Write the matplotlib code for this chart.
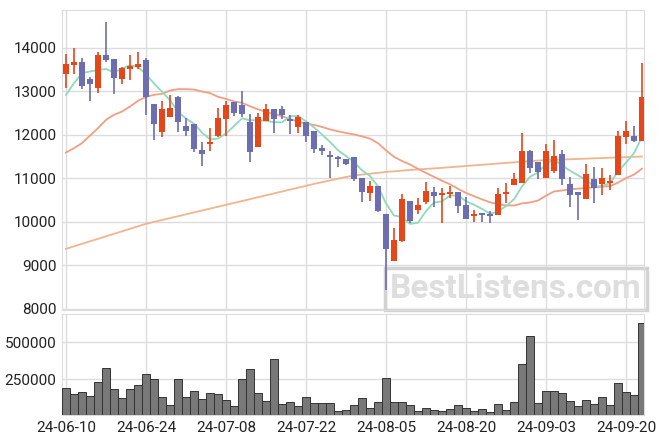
import numpy as np
import matplotlib
matplotlib.use("Agg")
import matplotlib.pyplot as plt

plt.rcParams['font.family'] = ['Roboto', 'DejaVu Sans']

# OHLC per trading day (index 0 = 24-06-10)
opens = [13395, 13616, 13678, 13280, 13087, 13832, 13747, 13294, 13524, 13563,
         13724, 12712, 12075, 12406, 12873, 12199, 12245, 11654, 11799, 11976,
         12374, 12758, 12682, 12298, 11730, 12328, 12590, 12590, 12344, 12176,
         12298, 12084, 11693, 11539, 11486, 11440, 11486, 11007, 10672, 10826,
         10182, 9108, 9561, 10481, 10281, 10465, 10681, 10612, 10642, 10695,
         10389, 10136, 10198, 10159, 10159, 10635, 10849, 10888, 11631, 11385,
         11017, 11178, 11555, 10865, 10681, 10534, 10980, 10879, 10902, 11079,
         11960, 11976, 11868]
highs = [13869, 13993, 13763, 13333, 13901, 14591, 13747, 13570, 13839, 13908,
         13777, 12712, 12788, 12919, 12903, 12383, 12245, 11845, 12167, 12613,
         12774, 12758, 13018, 12475, 12498, 12712, 12590, 12666, 12459, 12459,
         12298, 12084, 11769, 11631, 11516, 11440, 11486, 11007, 10948, 10826,
         10182, 9853, 10635, 10481, 10543, 10925, 10810, 10787, 10826, 10695,
         10566, 10274, 10198, 10258, 10777, 10902, 11118, 12038, 11650, 11385,
         11785, 11884, 11654, 11026, 10681, 11325, 11256, 11233, 11079, 12091,
         12328, 12206, 13648]
lows = [13087, 13409, 13057, 12781, 12958, 13671, 12935, 13179, 13257, 13510,
        12459, 11884, 11946, 12406, 12068, 11969, 11601, 11286, 11631, 11946,
        11983, 12436, 12406, 11385, 11730, 12328, 12038, 12360, 12022, 12038,
        11831, 11578, 11539, 11007, 11256, 11300, 10948, 10465, 10488, 10228,
        8434, 9108, 9531, 9982, 10182, 10405, 10350, 9968, 10543, 10212,
        10060, 10005, 9994, 9968, 10159, 10442, 10849, 10888, 11118, 10980,
        11017, 11118, 10849, 10336, 10044, 10534, 10428, 10619, 10734, 11079,
        11792, 11845, 11868]
closes = [13625, 13678, 13133, 13179, 13839, 13731, 13303, 13540, 13593, 13632,
          12880, 12259, 12590, 12613, 12305, 12098, 11670, 11569, 11845, 12383,
          12682, 12512, 12475, 11615, 12406, 12590, 12360, 12459, 12328, 12406,
          11983, 11677, 11638, 11481, 11440, 11325, 10987, 10681, 10826, 10251,
          9370, 9584, 10527, 10021, 10382, 10704, 10584, 10649, 10695, 10373,
          10060, 10182, 10166, 10136, 10642, 10669, 10980, 11631, 11247, 11136,
          11631, 11516, 10980, 10607, 10607, 11102, 10773, 11010, 10941, 11976,
          12098, 11861, 12866]
volumes = [189200, 148600, 162200, 135100, 229700, 324300, 182400, 121600, 182400, 209500,
           283800, 250000, 132400, 74300, 250000, 132400, 168900, 114900, 155400, 148600,
           108100, 67600, 250000, 317600, 155400, 101400, 385200, 81100, 94600, 67600,
           128400, 87800, 87800, 87800, 33800, 40500, 74300, 121600, 54000, 94600,
           256800, 94600, 94600, 74300, 33800, 54000, 40500, 33800, 47300, 74300,
           54000, 33800, 47300, 27000, 81100, 40500, 94600, 351400, 540600, 87800,
           168900, 168900, 155400, 101400, 67600, 108100, 81100, 128400, 74300, 223000,
           162200, 141900, 628400]

# moving-average values before enough history is shown
ma5_head = [12919, 13188, 13418, 13455]
ma20_head = [11592, 11693, 11808, 11983, 12153, 12344, 12459, 12535, 12650, 12781,
             12873, 12919, 12942, 13018, 13050, 13050, 13041, 12995, 12958]
ma120 = [9377, 9435, 9492, 9550, 9607, 9665, 9722, 9780, 9837, 9895,
         9952, 9996, 10040, 10083, 10127, 10170, 10214, 10258, 10302, 10345,
         10389, 10433, 10476, 10520, 10564, 10608, 10651, 10695, 10739, 10782,
         10826, 10870, 10910, 10950, 10990, 11030, 11060, 11085, 11105, 11125,
         11145, 11160, 11175, 11190, 11203, 11215, 11227, 11240, 11254, 11268,
         11282, 11296, 11310, 11324, 11338, 11352, 11366, 11380, 11394, 11408,
         11415, 11423, 11430, 11437, 11444, 11451, 11458, 11465, 11472, 11479,
         11486, 11493, 11500]

tick_pos = [0, 10, 20, 30, 40, 50, 60, 70]
tick_labels = ['24-06-10', '24-06-24', '24-07-08', '24-07-22',
               '24-08-05', '24-08-20', '24-09-03', '24-09-20']
price_ticks = [8000, 9000, 10000, 11000, 12000, 13000, 14000]
vol_ticks = [250000, 500000]

UP = '#e5471b'
DOWN = '#6d6db2'
GRID = '#dcdcdc'

o = np.array(opens, float)
h = np.array(highs, float)
l = np.array(lows, float)
c = np.array(closes, float)
x = np.arange(len(c))

ma5 = np.array([c[i - 4:i + 1].mean() if i >= 4 else ma5_head[i] for i in x])
ma20 = np.array([c[i - 19:i + 1].mean() if i >= 19 else ma20_head[i] for i in x])

W, H = 663, 444
fig = plt.figure(figsize=(W / 100, H / 100), dpi=100)
ax = fig.add_axes([62 / W, 1 - 310 / H, 582 / W, 300 / H])
axv = fig.add_axes([62 / W, 1 - 415 / H, 582 / W, 101 / H])

for a in (ax, axv):
    a.set_xlim(-0.5, 72.25)
    a.set_xticks(tick_pos)
    a.grid(True, color=GRID, linewidth=1)
    a.set_axisbelow(True)
    for s in a.spines.values():
        s.set_color(GRID)
    a.tick_params(length=0, labelsize=11, colors='#222222', pad=4)

# price panel
ax.set_ylim(7970, 14870)
ax.set_yticks(price_ticks)
ax.set_xticklabels([])

ax.plot(x, ma120, color='#f0b58e', lw=1.3, zorder=2)
ax.plot(x, ma20, color='#f09f83', lw=1.3, zorder=2)
ax.plot(x, ma5, color='#8fdabb', lw=1.3, zorder=2)

up = c >= o
colors = np.where(up, UP, DOWN)
ax.vlines(x, l, h, colors=colors, lw=1.2, zorder=3)
body_lo = np.minimum(o, c)
body_h = np.maximum(np.abs(c - o), 40)
ax.bar(x, body_h, bottom=body_lo, width=0.68, color=colors, zorder=4)

# watermark
ax.text(0.78, 0.07, 'BestListens.com', transform=ax.transAxes, ha='center', va='center',
        fontsize=24, fontweight='bold', color='#dedede', zorder=1,
        bbox=dict(boxstyle='square,pad=0.15', fc='none', ec='#d2d2d2', lw=2.5))

# volume panel
axv.set_ylim(9000, 690000)
axv.set_yticks(vol_ticks)
axv.set_xticklabels(tick_labels)
axv.bar(x, volumes, width=1.0, color='#787878', edgecolor='#333333', linewidth=0.7, zorder=3)

fig.savefig('out.png', dpi=100)
